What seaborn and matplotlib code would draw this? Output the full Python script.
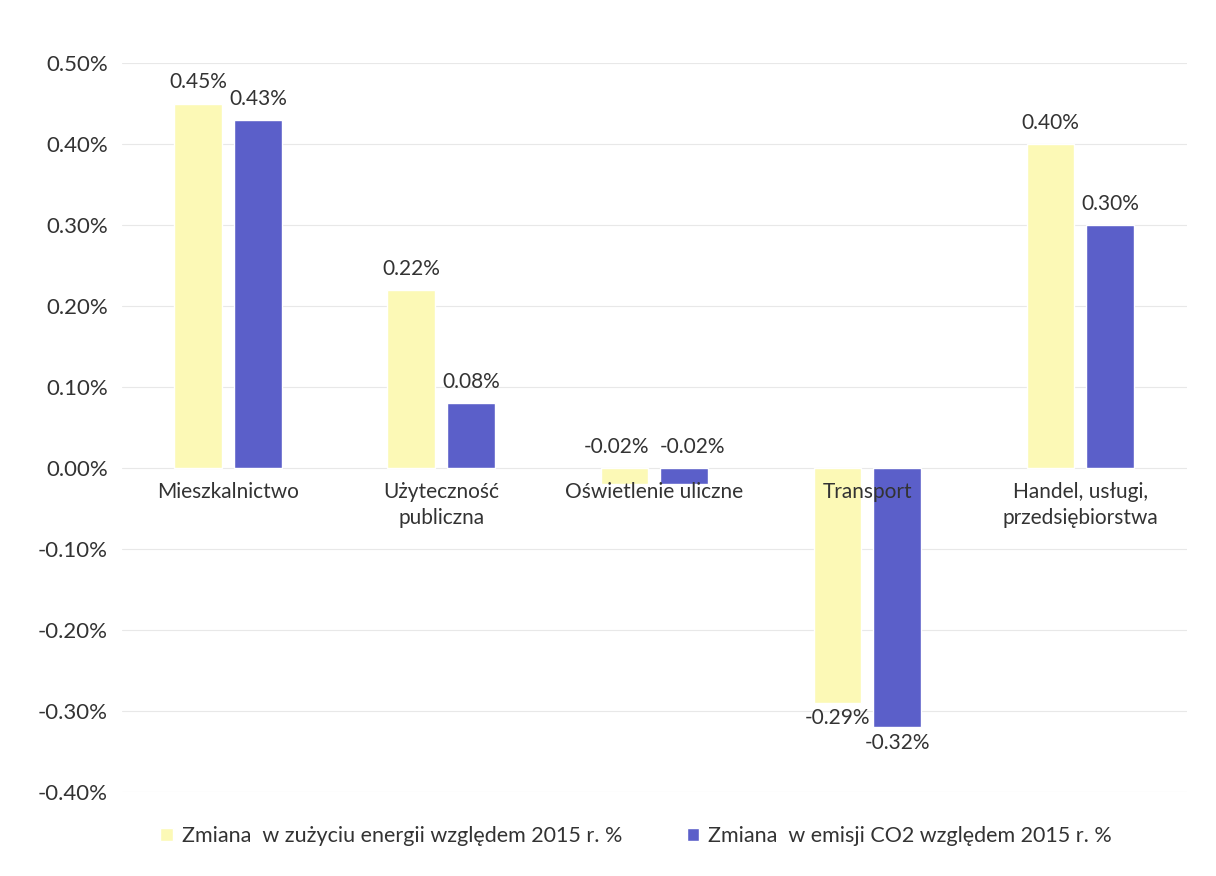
import matplotlib
matplotlib.use("Agg")
import matplotlib.pyplot as plt
import seaborn as sns
import pandas as pd

categories = ["Mieszkalnictwo", "Użyteczność\npubliczna", "Oświetlenie uliczne", "Transport",
              "Handel, usługi,\nprzedsiębiorstwa"]
series_names = ["Zmiana  w zużyciu energii względem 2015 r. %",
                "Zmiana  w emisji CO2 względem 2015 r. %"]
energy = [0.45, 0.22, -0.02, -0.29, 0.40]
co2 = [0.43, 0.08, -0.02, -0.32, 0.30]
yticks = [-0.4, -0.3, -0.2, -0.1, 0.0, 0.1, 0.2, 0.3, 0.4, 0.5]

rows = []
for c, e, m in zip(categories, energy, co2):
    rows.append({"cat": c, "series": series_names[0], "val": e})
    rows.append({"cat": c, "series": series_names[1], "val": m})
df = pd.DataFrame(rows)

sns.set_theme(style="white")
plt.rcParams["font.family"] = ["Lato", "DejaVu Sans"]
text_color = "#333333"

fig = plt.figure(figsize=(12.16, 8.76), dpi=100)
ax = fig.add_axes([0.1, 0.096, 0.876, 0.832])

palette = {series_names[0]: "#FCF9B6", series_names[1]: "#5B5FC9"}
sns.barplot(data=df, x="cat", y="val", hue="series", order=categories,
            hue_order=series_names, palette=palette, width=0.56, gap=0.2,
            saturation=1, ax=ax, legend=True)

ax.set_ylim(-0.4, 0.5)
ax.set_xlim(-0.5, 4.5)
ax.set_yticks(yticks)
ax.set_yticklabels([f"{t:.2f}%" for t in yticks], fontsize=16, color=text_color)
ax.tick_params(axis="y", length=0, pad=10)
ax.set_xticks([])
ax.set_xlabel("")
ax.set_ylabel("")
for s in ax.spines.values():
    s.set_visible(False)
ax.grid(axis="y", color="#e8e8e8", linewidth=0.8)
ax.set_axisbelow(True)

# value labels
for k, cont in enumerate(ax.containers):
    for bar in cont:
        h = bar.get_height()
        if pd.isna(h):
            continue
        x = bar.get_x() + bar.get_width() / 2
        if h >= 0:
            ax.annotate(f"{h:.2f}%", (x, h), xytext=(0, 8), textcoords="offset points",
                        ha="center", va="bottom", fontsize=15, color=text_color)
        elif h > -0.05:
            dx = -6 if k == 0 else 6
            ax.annotate(f"{h:.2f}%", (x, 0), xytext=(dx, 8), textcoords="offset points",
                        ha="center", va="bottom", fontsize=15, color=text_color)
        else:
            ax.annotate(f"{h:.2f}%", (x, h), xytext=(0, -4), textcoords="offset points",
                        ha="center", va="top", fontsize=15, color=text_color)

# category labels at the zero line
for i, c in enumerate(categories):
    ax.annotate(c, (i, 0), xytext=(0, -10), textcoords="offset points",
                ha="center", va="top", fontsize=15, color=text_color, linespacing=1.4)

leg = ax.get_legend()
handles, labels = ax.get_legend_handles_labels()
leg.remove()
fig.legend(handles, labels, loc="lower center", bbox_to_anchor=(0.523, 0.012), ncol=2,
           frameon=False, fontsize=15.5, handlelength=0.6, handleheight=0.6,
           handletextpad=0.4, columnspacing=3.0, labelcolor=text_color)

fig.savefig("out.png", dpi=100)
